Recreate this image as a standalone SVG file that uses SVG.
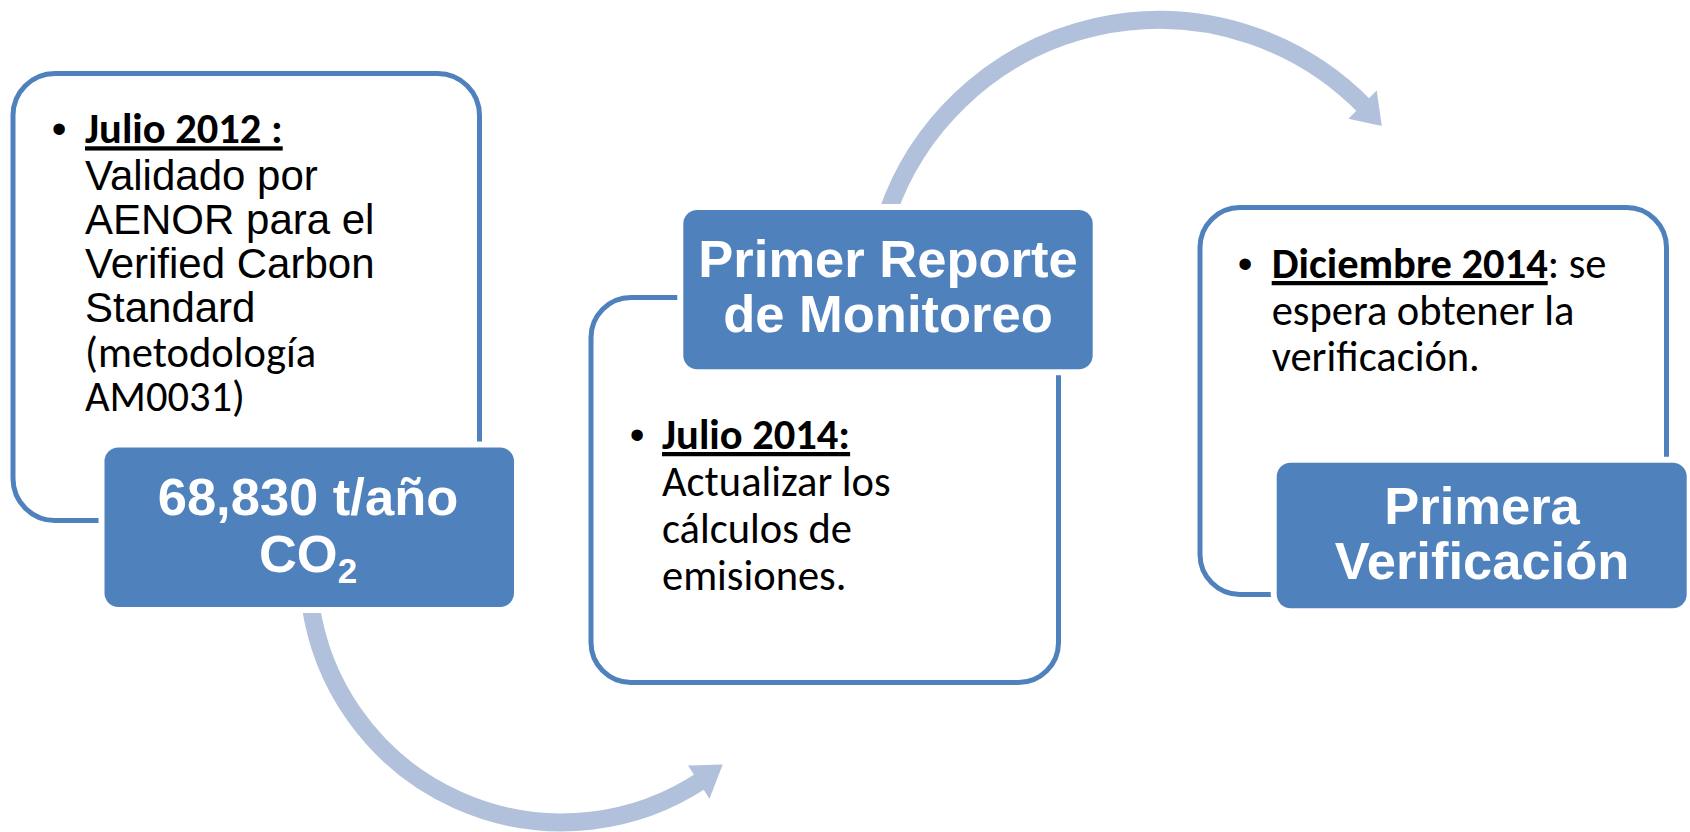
<svg xmlns="http://www.w3.org/2000/svg" width="1690" height="832" viewBox="0 0 1690 832">
<style>
.outline{fill:#fff;stroke:#4F81BD;stroke-width:5}
.title{fill:#4F81BD;stroke:#fff;stroke-width:12;paint-order:stroke}
.tt{font-family:"Liberation Sans",Arial,sans-serif;font-weight:bold;font-size:52.5px;fill:#fff;text-anchor:middle}
.ar{font-family:"Liberation Sans",Arial,sans-serif;font-size:42px;fill:#000}
.cal{font-family:Carlito,Calibri,Lato,sans-serif;font-size:42.5px;fill:#000}
.bul{font-family:"Liberation Sans",Arial,sans-serif;font-size:42px;fill:#000;text-anchor:middle}
.b{font-weight:bold}
.u{text-decoration:underline}
.shaft{fill:none;stroke:#B2C1DB;stroke-width:18}
.head{fill:#B2C1DB}
</style>
<g id="connectors">
  <path class="shaft" d="M310.5,604 A253.8,253.8 0 0 0 701.9,780.3"/>
  <polygon class="head" points="688,765.4 722.7,764.6 709.5,798.8"/>
  <path class="shaft" d="M887.1,214 A287.6,287.6 0 0 1 1365.9,107.8"/>
  <polygon class="head" points="1348.4,118.7 1381.8,125.9 1376.7,90.4"/>
</g>
<g id="node1">
  <rect class="outline" x="13" y="73.5" width="466.5" height="447" rx="42"/>
  <text class="bul" x="59" y="143.3">•</text>
  <text class="cal b u" x="85" y="143.3">Julio 2012 :</text>
  <text class="ar" x="85" y="189.5">Validado por</text>
  <text class="ar" x="85" y="233.6">AENOR para el</text>
  <text class="ar" x="85" y="277.7">Verified Carbon</text>
  <text class="ar" x="85" y="321.8">Standard</text>
  <text class="cal" x="85" y="366.7">(metodología</text>
  <text class="cal" x="85" y="411">AM0031)</text>
  <rect class="title" x="104.5" y="447.5" width="409.5" height="159.5" rx="14"/>
  <text class="tt" x="308" y="515">68,830 t/año</text>
  <text class="tt" x="308" y="572">CO<tspan font-size="35" dy="11">2</tspan></text>
</g>
<g id="node2">
  <rect class="outline" x="591" y="297.5" width="467.5" height="385" rx="40"/>
  <rect class="title" x="683.3" y="210" width="409.4" height="159.3" rx="14"/>
  <text class="tt" x="888" y="277.3">Primer Reporte</text>
  <text class="tt" x="888" y="331.7">de Monitoreo</text>
  <text class="bul" x="637" y="449">•</text>
  <text class="cal b u" x="662" y="449">Julio 2014:</text>
  <text class="cal" x="662" y="496">Actualizar los</text>
  <text class="cal" x="662" y="543">cálculos de</text>
  <text class="cal" x="662" y="590">emisiones.</text>
</g>
<g id="node3">
  <rect class="outline" x="1200" y="207.5" width="466.5" height="387" rx="40"/>
  <text class="bul" x="1245" y="278">•</text>
  <text class="cal" x="1271.7" y="278"><tspan class="b u">Diciembre 2014</tspan>: se</text>
  <text class="cal" x="1271.7" y="324.5">espera obtener la</text>
  <text class="cal" x="1271.7" y="371">verificación.</text>
  <rect class="title" x="1276.7" y="462.7" width="410" height="145.6" rx="14"/>
  <text class="tt" x="1482" y="524">Primera</text>
  <text class="tt" x="1482" y="579.3">Verificación</text>
</g>
</svg>
